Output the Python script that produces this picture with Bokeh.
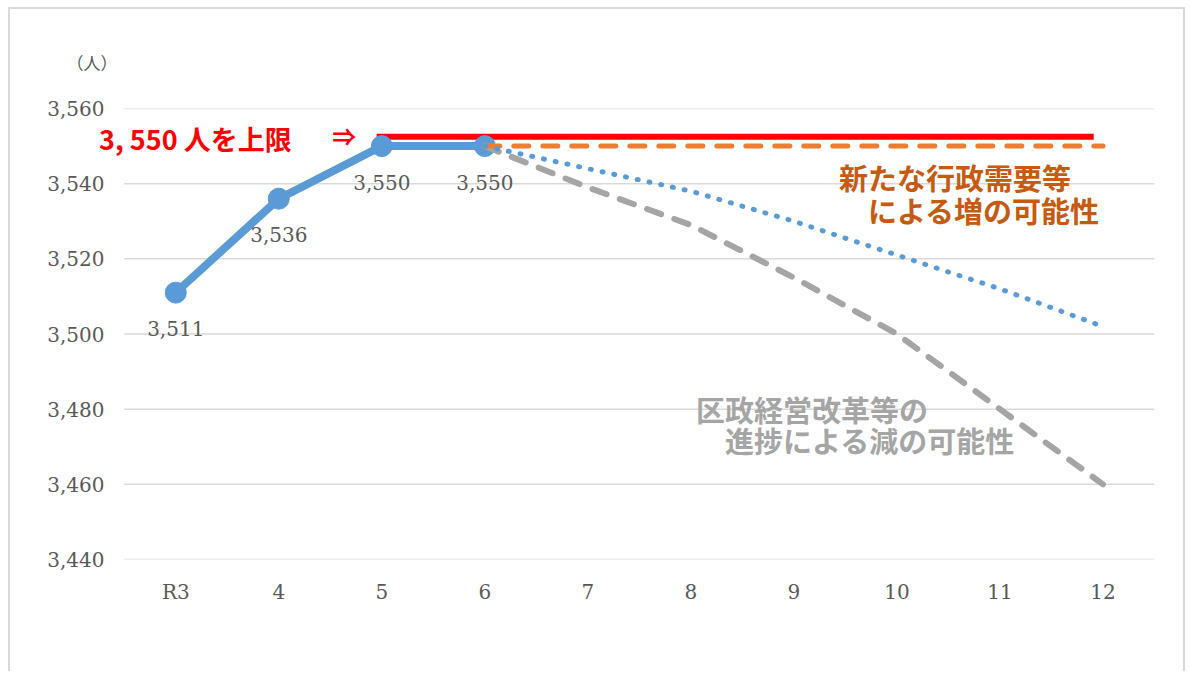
from bokeh.plotting import figure
from bokeh.models import Range1d, FixedTicker, NumeralTickFormatter, Label, ColumnDataSource
from bokeh.core.properties import value
from bokeh.embed import file_html
from bokeh.resources import INLINE

# ---- data ----
categories = ["R3", "4", "5", "6", "7", "8", "9", "10", "11", "12"]
actual_idx = [0, 1, 2, 3]
actual_vals = [3511, 3536, 3550, 3550]
actual_labels = ["3,511", "3,536", "3,550", "3,550"]

proj_idx = [3, 4, 5, 6, 7, 8, 9]
increase_vals = [3550, 3550, 3550, 3550, 3550, 3550, 3550]      # orange dashed
decrease_vals = [3550, 3539, 3529, 3515, 3500, 3480, 3460]      # gray dashed
trend_vals = [3550, 3544, 3538, 3530, 3521, 3512, 3502]         # blue dotted

cap_x = [1.95, 8.91]
cap_y = [3552.5, 3552.5]

y_ticks = [3440, 3460, 3480, 3500, 3520, 3540, 3560]

SERIF = "DejaVu Serif"
JP = "Noto Sans CJK JP"
GRAY_TXT = "#595959"

p = figure(width=1177, height=664, output_backend="svg", toolbar_location=None,
           x_range=Range1d(-0.75, 9.5), y_range=Range1d(3440, 3560),
           min_border_left=88, min_border_right=33, min_border_top=99, min_border_bottom=114)
p.outline_line_color = None
p.background_fill_color = "white"
p.border_fill_color = "white"
p.styles = {"margin-left": "8px", "margin-top": "7px",
            "border-top": "2px solid #D9D9D9", "border-left": "2px solid #D9D9D9",
            "border-right": "2px solid #D9D9D9"}

# unit label as title
p.title.text = "（人）"
p.title.align = "left"
p.title.offset = -32
p.title.standoff = 68
p.title.text_font = JP
p.title.text_font_style = "normal"
p.title.text_font_size = "17px"
p.title.text_color = GRAY_TXT

# axes
p.xaxis.ticker = FixedTicker(ticks=list(range(len(categories))))
p.xaxis.major_label_overrides = {i: c for i, c in enumerate(categories)}
p.yaxis.ticker = FixedTicker(ticks=y_ticks)
p.yaxis.formatter = NumeralTickFormatter(format="0,0")
for ax in (p.xaxis, p.yaxis):
    ax.axis_line_color = None
    ax.major_tick_line_color = None
    ax.minor_tick_line_color = None
    ax.major_tick_in = 0
    ax.major_tick_out = 0
    ax.major_label_text_font = SERIF
    ax.major_label_text_font_size = "20px"
    ax.major_label_text_color = GRAY_TXT
p.yaxis.major_label_standoff = -6
p.xaxis.major_label_standoff = 20
p.xgrid.grid_line_color = None
p.ygrid.grid_line_color = None

# horizontal gridlines across the category extent
p.segment(x0=[-0.5] * len(y_ticks), x1=[len(categories) - 0.5] * len(y_ticks),
          y0=y_ticks, y1=y_ticks, line_color="#D9D9D9", line_width=1.5)

# cap line (red)
p.line(cap_x, cap_y, line_color="#FF0000", line_width=6)

# actual series
p.line(actual_idx, actual_vals, line_color="#5B9BD5", line_width=8, line_join="round")
p.scatter(actual_idx, actual_vals, size=21, fill_color="#5B9BD5", line_color="#5B9BD5")

# projections
p.line(proj_idx, decrease_vals, line_color="#A5A5A5", line_width=6, line_dash="15 14",
       line_cap="round", line_join="round")
p.line(proj_idx, increase_vals, line_color="#ED7D31", line_width=5, line_dash="15 14",
       line_cap="round")
p.line(proj_idx, trend_vals, line_color="#5B9BD5", line_width=5, line_dash="1 11",
       line_cap="round", line_join="round")

# data labels
src = ColumnDataSource(dict(x=actual_idx, y=actual_vals, t=actual_labels))
p.text(x="x", y="y", text="t", source=src, y_offset=36, text_align="center",
       text_baseline="middle", text_font=value(SERIF), text_font_size="20px",
       text_color=GRAY_TXT)

# annotations
p.add_layout(Label(x=-0.745, y=3552.0, text="3, 550 人を上限", text_font=JP,
                   text_font_size="27px", text_font_style="bold", text_color="#FF0000",
                   text_baseline="middle"))
p.add_layout(Label(x=1.52, y=3552.8, text="⇒", text_font=JP,
                   text_font_size="24px", text_font_style="bold", text_color="#FF0000",
                   text_baseline="middle"))
p.add_layout(Label(x=6.437, y=3541.9, text="新たな行政需要等", text_font=JP,
                   text_font_size="29px", text_font_style="bold", text_color="#C55A11",
                   text_baseline="middle"))
p.add_layout(Label(x=6.437, y=3533.1, text="　による増の可能性", text_font=JP,
                   text_font_size="29px", text_font_style="bold", text_color="#C55A11",
                   text_baseline="middle"))
p.add_layout(Label(x=5.05, y=3480.1, text="区政経営改革等の", text_font=JP,
                   text_font_size="29px", text_font_style="bold", text_color="#A5A5A5",
                   text_baseline="middle"))
p.add_layout(Label(x=5.05, y=3471.7, text="　進捗による減の可能性", text_font=JP,
                   text_font_size="29px", text_font_style="bold", text_color="#A5A5A5",
                   text_baseline="middle"))

open("out.html", "w").write(file_html(p, INLINE))
